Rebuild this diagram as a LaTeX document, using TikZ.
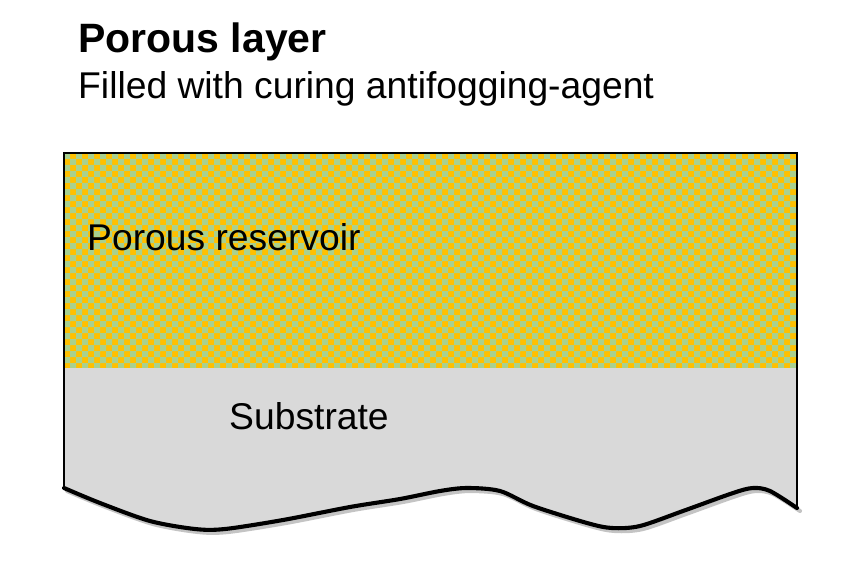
\documentclass[tikz,border=0pt]{standalone}
\usepackage{fontspec}
\setmainfont{Liberation Sans}
\definecolor{poreorange}{HTML}{FFC000}
\definecolor{poregreen}{HTML}{A9D18E}
\definecolor{subgray}{HTML}{D9D9D9}
\definecolor{shadowgray}{HTML}{C4C4C4}
\tikzstyle{title} = [anchor=base west, inner sep=0pt, font=\fontsize{35}{40}\selectfont\bfseries]
\tikzstyle{label} = [anchor=base west, inner sep=0pt, font=\fontsize{31.8}{37}\selectfont]
\tikzstyle{border} = [line width=2pt, line join=miter]
\tikzstyle{wave} = [line width=3.5pt, line cap=round, line join=round]
\newcommand{\wavepts}{(64,488) (100,503) (150,521) (195,529) (225,529) (283,520) (350,507) (400,499) (440,491) (467,488) (500,491) (533,506) (587,523) (612,528) (640,526) (683,511) (733,493) (753,488) (770,491) (797,508)}
\begin{document}
\begin{tikzpicture}[x=0.03cm, y=-0.03cm]
    \useasboundingbox (0,0) rectangle (852,568);
    % Porous reservoir, 6px checker cells
    \fill [poreorange] (64,153) rectangle (797,368);
    \begin{scope}
        \clip (64,153) rectangle (797,368);
        \fill [poregreen]
            \foreach \i in {0,...,61} {
                \foreach \j in {0,...,17} {
                    (64+12*\i,153+12*\j) rectangle ++(6,6)
                    (70+12*\i,159+12*\j) rectangle ++(6,6)
                }
            };
    \end{scope}
    % Substrate
    \fill [subgray] (64,368) -- plot[smooth, tension=0.5] coordinates {\wavepts} -- (797,368) -- cycle;
    \draw [wave, shadowgray, xshift=0.09cm, yshift=-0.09cm] plot[smooth, tension=0.5] coordinates {\wavepts};
    \draw [wave] plot[smooth, tension=0.5] coordinates {\wavepts};
    % Outline
    \draw [border] (797,508) -- (797,153) -- (64,153) -- (64,488);

    % Labels
    \node [title] (layer) at (78,53) {Porous layer};
    \node [label] (filled) at (78,99) {Filled with curing antifogging-agent};
    \node [label] (reservoir) at (87,250) {Porous reservoir};
    \node [label] (substrate) at (229,429) {Substrate};
\end{tikzpicture}
\end{document}
